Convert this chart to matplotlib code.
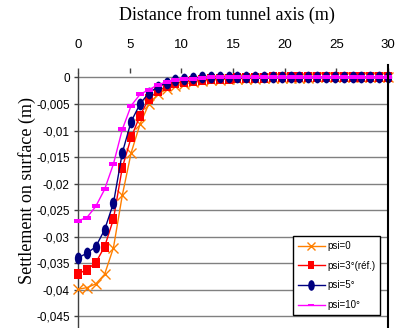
import numpy as np
import matplotlib
matplotlib.use("Agg")
import matplotlib.pyplot as plt
from matplotlib.path import Path
from matplotlib.transforms import Affine2D

# distance from tunnel axis (m), 36 nodes from 0 to 30
distance = np.linspace(0, 30, 36)

settle_psi0 = [-0.0399, -0.0396, -0.0389, -0.0371, -0.0321, -0.0222, -0.0142, -0.0088,
               -0.0050, -0.0032, -0.0022, -0.0016, -0.0012, -0.0009, -0.0007, -0.0005,
               -0.0004, -0.0003, -0.0002, -0.0002, -0.0002, -0.0001, -0.0001, -0.0001,
               -0.0001, -0.0001, -0.0001, 0.0, 0.0, 0.0, 0.0, 0.0, 0.0, 0.0, 0.0, 0.0]
settle_psi3 = [-0.0370, -0.0362, -0.0349, -0.0319, -0.0267, -0.0170, -0.0113, -0.0072,
               -0.0040, -0.0026, -0.0017, -0.0011, -0.0008, -0.0006, -0.0004, -0.0003,
               -0.0002, -0.0002, -0.0001, -0.0001, -0.0001, -0.0001, 0.0, 0.0,
               0.0, 0.0, 0.0, 0.0, 0.0, 0.0, 0.0, 0.0, 0.0, 0.0, 0.0, 0.0]
settle_psi5 = [-0.0340, -0.0331, -0.0319, -0.0287, -0.0237, -0.0142, -0.0083, -0.0050,
               -0.0029, -0.0018, -0.0010, -0.0005, -0.0002, -0.0001, 0.0, 0.0,
               0.0, 0.0, 0.0, 0.0, 0.0, 0.0, 0.0, 0.0,
               0.0, 0.0, 0.0, 0.0, 0.0, 0.0, 0.0, 0.0, 0.0, 0.0, 0.0, 0.0]
settle_psi10 = [-0.0270, -0.0264, -0.0243, -0.0211, -0.0163, -0.0098, -0.0053, -0.0032,
                -0.0023, -0.0014, -0.0008, -0.0005, -0.0003, -0.0002, -0.0001, 0.0,
                0.0, 0.0, 0.0, 0.0, 0.0, 0.0, 0.0, 0.0,
                0.0, 0.0, 0.0, 0.0, 0.0, 0.0, 0.0, 0.0, 0.0, 0.0, 0.0, 0.0]

labels = ["psi=0", "psi=3°(réf.)", "psi=5°", "psi=10°"]
colors = ["#FF7F00", "#FF0000", "#000080", "#FF00FF"]

x_ticks = [0, 5, 10, 15, 20, 25, 30]
y_ticks = [0, -0.005, -0.01, -0.015, -0.02, -0.025, -0.03, -0.035, -0.04, -0.045]
y_tick_labels = ["0", "-0,005", "-0,01", "-0,015", "-0,02", "-0,025", "-0,03",
                 "-0,035", "-0,04", "-0,045"]

sans = ["Liberation Sans", "DejaVu Sans"]
serif = ["Liberation Serif", "DejaVu Serif"]

oval = Path.unit_circle().transformed(Affine2D().scale(0.62, 1.0))
dash = Path([(-1, -0.4), (1, -0.4), (1, 0.4), (-1, 0.4), (-1, -0.4)],
            [Path.MOVETO, Path.LINETO, Path.LINETO, Path.LINETO, Path.CLOSEPOLY])
tall_sq = Path([(-0.85, -1), (0.85, -1), (0.85, 1), (-0.85, 1), (-0.85, -1)],
               [Path.MOVETO, Path.LINETO, Path.LINETO, Path.LINETO, Path.CLOSEPOLY])

fig = plt.figure(figsize=(3.96, 3.28), dpi=100)
ax = fig.add_axes([78 / 396, 0, 310 / 396, (328 - 72.7) / 328])

ax.set_xlim(0, 30)
ax.set_ylim(-0.0472, 0.0009)

for yv in y_ticks:
    ax.axhline(yv, color="#808080", lw=1, zorder=1)

ax.plot(distance, settle_psi0, color=colors[0], lw=1, marker="x", ms=6.5, mew=1,
        label=labels[0], clip_on=False, zorder=3)
ax.plot(distance, settle_psi3, color=colors[1], lw=1, marker=tall_sq, ms=6.5, mew=0,
        label=labels[1], clip_on=False, zorder=4)
ax.plot(distance, settle_psi5, color=colors[2], lw=1, marker=oval, ms=8.5, mew=0,
        label=labels[2], clip_on=False, zorder=5)
ax.plot(distance, settle_psi10, color=colors[3], lw=1, marker=dash, ms=5.5, mew=0,
        label=labels[3], clip_on=False, zorder=6)

for s in ["top", "bottom"]:
    ax.spines[s].set_visible(False)
ax.spines["left"].set_color("#404040")
ax.spines["left"].set_linewidth(1)
ax.spines["right"].set_visible(False)
ax.axvline(30, 0, 1.03, color="black", lw=1.5, clip_on=False, zorder=7)

ax.xaxis.tick_top()
ax.set_xticks(x_ticks)
ax.tick_params(axis="x", direction="out", length=3.6, width=1, color="#404040",
               pad=12, labelsize=9.5)
for lab in ax.get_xticklabels():
    lab.set_family(sans)
ax.set_yticks(y_ticks)
ax.set_yticklabels(y_tick_labels, family=sans, fontsize=8.5)
ax.tick_params(axis="y", direction="out", length=3, width=1, color="#404040", pad=3)

fig.text(227 / 396, 1 - 15 / 328, "Distance from tunnel axis (m)", family=serif,
         fontsize=13, ha="center", va="center")
fig.text(27 / 396, 1 - 191 / 328, "Settlement on surface (m)", family=serif,
         fontsize=13, ha="center", va="center", rotation=90)

leg = ax.legend(loc="lower right", bbox_to_anchor=(380 / 396, 13 / 328),
                bbox_transform=fig.transFigure, borderaxespad=0, fancybox=False,
                framealpha=1, edgecolor="black", prop={"family": sans, "size": 7},
                handlelength=2.8, labelspacing=1.0, handletextpad=0.2,
                borderpad=0.5, markerscale=0.9)
leg.get_frame().set_linewidth(1)
leg.set_zorder(10)

fig.savefig("out.png", dpi=100)
